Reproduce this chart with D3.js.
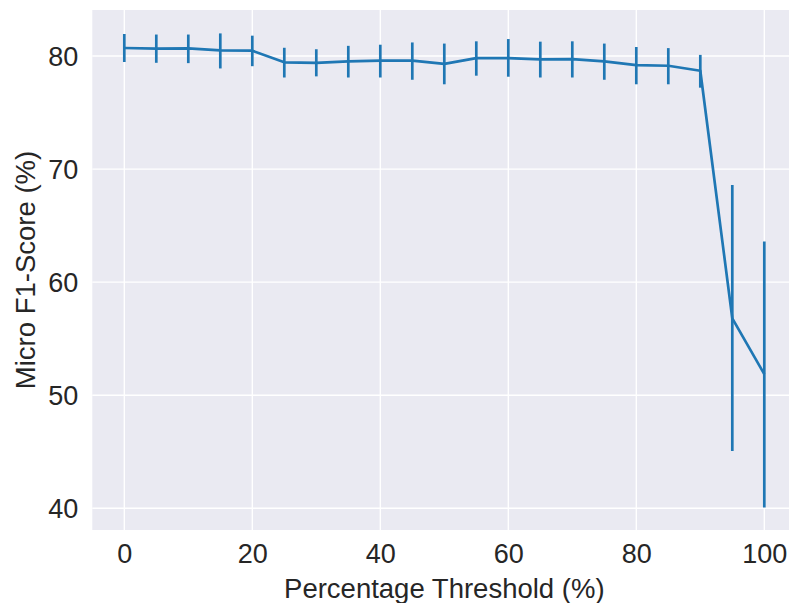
<!DOCTYPE html>
<html>
<head>
<meta charset="utf-8">
<script src="https://cdn.jsdelivr.net/npm/d3@7"></script>
<style>
  body { margin: 0; background: #fff; }
  svg { display: block; font-family: "Liberation Sans", Arial, sans-serif; }
  .grid line { stroke: #fff; stroke-width: 1.4; }
  .axis path, .axis line { display: none; }
  .axis text { fill: #262626; font-size: 27px; }
</style>
</head>
<body>
<div id="chart"></div>
<script>
// thresholds (%) and micro F1 mean with error bar ends
const thresholds = [0, 5, 10, 15, 20, 25, 30, 35, 40, 45, 50, 55, 60, 65, 70, 75, 80, 85, 90, 95, 100];
const f1Mean = [80.71, 80.65, 80.68, 80.5, 80.47, 79.44, 79.4, 79.53, 79.6, 79.6, 79.3, 79.82, 79.82, 79.7, 79.73, 79.53, 79.2, 79.14, 78.7, 56.8, 51.86];
const f1Low = [79.47, 79.4, 79.37, 78.9, 79.1, 78.1, 78.2, 78.1, 78.1, 77.9, 77.5, 78.26, 78.17, 78.1, 78.1, 77.9, 77.5, 77.5, 77.2, 45.07, 40.06];
const f1High = [81.95, 81.9, 81.9, 82.0, 81.8, 80.73, 80.6, 80.9, 81.0, 81.2, 81.1, 81.3, 81.5, 81.27, 81.3, 81.1, 80.8, 80.7, 80.1, 68.6, 63.6];
const xTicks = [0, 20, 40, 60, 80, 100];
const yTicks = [40, 50, 60, 70, 80];

const width = 789, height = 603;
const margin = { top: 10, right: -7.3, bottom: 73, left: 92.3 };
const innerW = width - margin.left - margin.right;
const innerH = height - margin.top - margin.bottom;

const svg = d3.select('#chart').append('svg')
  .attr('width', width)
  .attr('height', height);

const chart = svg.append('g')
  .attr('transform', `translate(${margin.left},${margin.top})`);

const x = d3.scaleLinear().domain([-5, 105]).range([0, innerW]);
const y = d3.scaleLinear().domain([38.08, 84.07]).range([innerH, 0]);

// background
chart.append('rect')
  .attr('width', innerW)
  .attr('height', innerH)
  .attr('fill', '#eaeaf2');

// grid
const grid = chart.append('g').attr('class', 'grid');
grid.selectAll('.gx').data(xTicks).enter().append('line')
  .attr('x1', d => x(d)).attr('x2', d => x(d))
  .attr('y1', 0).attr('y2', innerH);
grid.selectAll('.gy').data(yTicks).enter().append('line')
  .attr('x1', 0).attr('x2', innerW)
  .attr('y1', d => y(d)).attr('y2', d => y(d));

// axes
chart.append('g')
  .attr('class', 'x axis')
  .attr('transform', `translate(0,${innerH})`)
  .call(d3.axisBottom(x).tickValues(xTicks).tickSize(0).tickPadding(14))
  .selectAll('text').attr('dy', '0.71em');

chart.append('g')
  .attr('class', 'y axis')
  .call(d3.axisLeft(y).tickValues(yTicks).tickSize(0).tickPadding(14))
  .selectAll('text').attr('dy', '0.35em');

const data = thresholds.map((t, i) => ({ t, m: f1Mean[i], lo: f1Low[i], hi: f1High[i] }));

// mean line
chart.append('path')
  .datum(data)
  .attr('fill', 'none')
  .attr('stroke', '#1f77b4')
  .attr('stroke-width', 2.7)
  .attr('stroke-linejoin', 'round')
  .attr('d', d3.line().x(d => x(d.t)).y(d => y(d.m)));

// error bars
chart.selectAll('.err').data(data).enter().append('line')
  .attr('class', 'err')
  .attr('x1', d => x(d.t)).attr('x2', d => x(d.t))
  .attr('y1', d => y(d.lo)).attr('y2', d => y(d.hi))
  .attr('stroke', '#1f77b4')
  .attr('stroke-width', 2.7);

// labels
svg.append('text')
  .attr('x', margin.left + innerW / 2)
  .attr('y', 597.5)
  .attr('text-anchor', 'middle')
  .attr('fill', '#262626')
  .style('font-size', '27.5px')
  .text('Percentage Threshold (%)');

svg.append('text')
  .attr('transform', `translate(35,${margin.top + innerH / 2}) rotate(-90)`)
  .attr('text-anchor', 'middle')
  .attr('fill', '#262626')
  .style('font-size', '27.5px')
  .text('Micro F1-Score (%)');
</script>
</body>
</html>
